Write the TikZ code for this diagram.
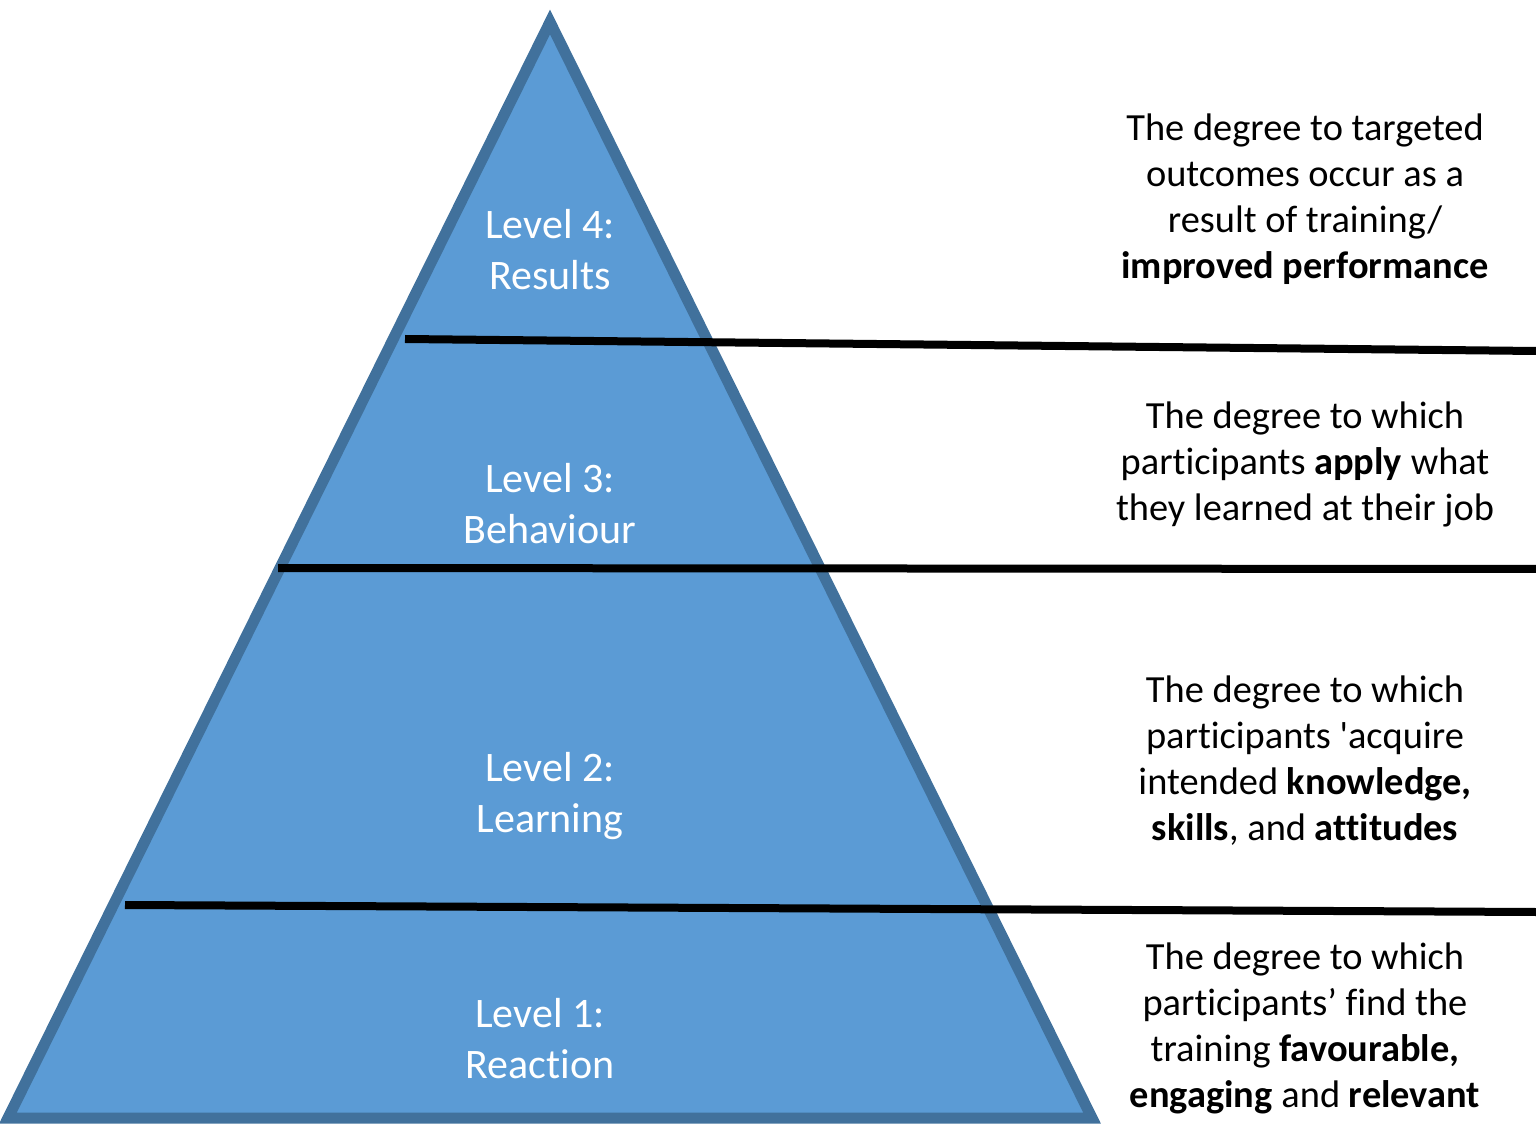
\documentclass[tikz,border=0pt]{standalone}
\usepackage{fontspec}
\setmainfont{Carlito}[Ligatures={NoCommon}]
\definecolor{pyrfill}{HTML}{5B9BD5}
\definecolor{pyredge}{HTML}{41719C}
\begin{document}
\begin{tikzpicture}[x=0.5pt,y=-0.5pt,
  lvl/.style={text=white,align=center,font=\fontsize{21}{25.5}\selectfont},
  desc/.style={text=black,align=center,font=\fontsize{19.2}{23}\selectfont},
  sep/.style={line width=4pt,black}]
\useasboundingbox (0,0) rectangle (1536,1133);
\draw[fill=pyrfill,draw=pyredge,line width=5.5pt,line join=miter]
  (550,22) -- (1092,1118) -- (8,1118) -- cycle;
\coordinate (s1a) at (405,339); \coordinate (s1b) at (1536,351);
\coordinate (s2a) at (278,568); \coordinate (s2b) at (1536,569);
\coordinate (s3a) at (125,905); \coordinate (s3b) at (1536,912);
\draw[sep] (s1a) -- (s1b);
\draw[sep] (s2a) -- (s2b);
\draw[sep] (s3a) -- (s3b);
\node[lvl] (l4) at (550,250) {Level 4:\\Results};
\node[lvl] (l3) at (550,504) {Level 3:\\Behaviour};
\node[lvl] (l2) at (550,796) {Level 2:\\Learning};
\node[lvl] (l1) at (540,1039) {Level 1:\\Reaction};
\node[desc] (d4) at (1305,199) {The degree to targeted\\outcomes occur as a\\result of training/\\\textbf{improved performance}};
\node[desc] (d3) at (1305,464) {The degree to which\\participants \textbf{apply} what\\they learned at their job};
\node[desc] (d2) at (1305,761) {The degree to which\\participants \textquotesingle acquire\\intended \textbf{knowledge,}\\\textbf{skills}, and \textbf{attitudes}};
\node[desc] (d1) at (1305,1028) {The degree to which\\participants’ find the\\training \textbf{favourable,}\\\textbf{engaging} and \textbf{relevant}};
\end{tikzpicture}
\end{document}
